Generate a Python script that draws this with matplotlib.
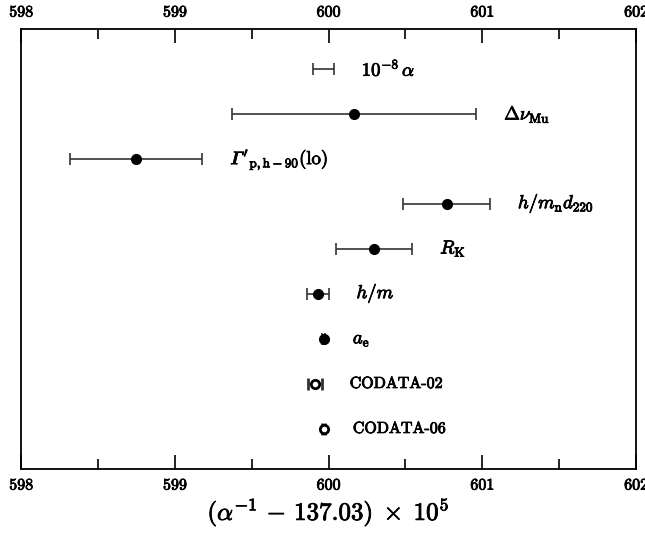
import matplotlib
matplotlib.use("Agg")
import matplotlib.pyplot as plt
import matplotlib.patheffects as pe
from matplotlib.ticker import MultipleLocator

plt.rcParams['mathtext.fontset'] = 'cm'

# data, top row first
labels = [r'$10^{-8}\,\alpha$',
          r'$\Delta\nu_{\mathrm{Mu}}$',
          "$\U0001D6E4'_{\\mathrm{p,h-90}}(\\mathrm{lo})$",
          r'$h/m_{\mathrm{n}}d_{220}$',
          r'$R_{\mathrm{K}}$',
          r'$h/m$',
          r'$a_{\mathrm{e}}$',
          'CODATA-02',
          'CODATA-06']
values = [599.966, 600.166, 598.750, 600.769, 600.296, 599.930, 599.968, 599.911, 599.968]
errors = [0.069, 0.796, 0.430, 0.282, 0.249, 0.071, 0.0094, 0.046, 0.0094]
kinds = ['none', 'filled', 'filled', 'filled', 'filled', 'filled', 'filled', 'open', 'open']

bold = [pe.withStroke(linewidth=0.6, foreground='black')]

fig = plt.figure(figsize=(6.45, 5.41), dpi=100)
ax = fig.add_axes([0.0326, 0.133, 0.9535, 0.813])

n = len(values)
for i in range(n):
    y = n - 1 - i
    if kinds[i] == 'none':
        mk = dict(fmt='none')
    elif kinds[i] == 'filled':
        mk = dict(fmt='o', ms=7, mfc='black', mec='black')
    else:
        mk = dict(fmt='o', ms=6, mfc='white', mec='black', mew=2)
    ax.errorbar(values[i], y, xerr=errors[i], ecolor='#333333', elinewidth=1.2,
                capsize=4.3, capthick=1.2, **mk)
    if labels[i].startswith('$'):
        ax.annotate(labels[i], (values[i] + errors[i], y), xytext=(20, 0),
                    textcoords='offset points', va='center', ha='left',
                    fontsize=13.5, path_effects=bold)
    else:
        ax.annotate(labels[i], (values[i] + errors[i], y), xytext=(20, 0),
                    textcoords='offset points', va='center', ha='left',
                    fontsize=11.5, family='cmr10', path_effects=bold)

ax.set_xlim(598, 602)
ax.set_ylim(-0.889, n - 1 + 0.889)
ax.set_yticks([])
ax.xaxis.set_major_locator(MultipleLocator(1))
ax.xaxis.set_minor_locator(MultipleLocator(0.5))
ax.tick_params(axis='x', which='both', direction='in', top=True, labeltop=True,
               labelsize=11.5, width=1.2, pad=7)
ax.tick_params(axis='x', which='major', length=10)
ax.tick_params(axis='x', which='minor', length=7)
for lab in ax.get_xticklabels(which='both'):
    lab.set_family('cmr10')
    lab.set_path_effects(bold)
for s in ax.spines.values():
    s.set_linewidth(1.3)

ax.set_xlabel(r'$(\alpha^{-1}\,-\,137.03)\;\times\;10^5$',
              fontsize=18, labelpad=3, path_effects=bold)

fig.savefig('out.png', dpi=100)
